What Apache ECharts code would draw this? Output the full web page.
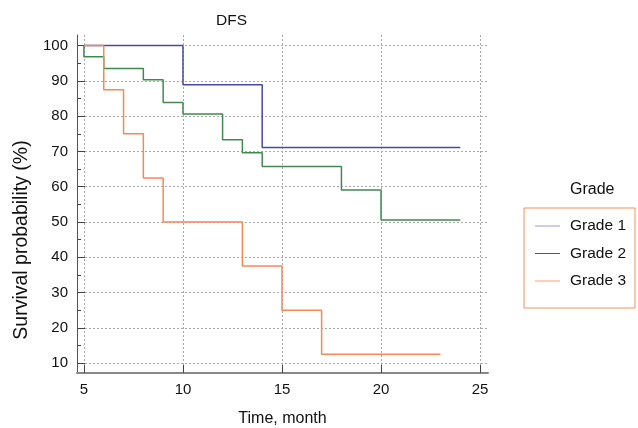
<!DOCTYPE html>
<html>
<head>
<meta charset="utf-8">
<script src="https://cdn.jsdelivr.net/npm/echarts@6/dist/echarts.min.js"></script>
<style>
html,body{margin:0;padding:0;background:#fff;}
#chart{width:638px;height:428px;}
</style>
</head>
<body>
<div id="chart"></div>
<script>
const titleText = 'DFS';
const legendTitle = 'Grade';
const seriesNames = ['Grade 1', 'Grade 2', 'Grade 3'];
const grade1Time = [5, 10, 14, 24];
const grade1Surv = [100, 88.9, 71.1, 71.1];
const grade2Time = [5, 5, 6, 8, 9, 10, 12, 13, 14, 18, 20, 24];
const grade2Surv = [100, 96.8, 93.5, 90.3, 83.9, 80.6, 73.3, 69.6, 65.7, 59.1, 50.6, 50.6];
const grade3Time = [5, 6, 7, 8, 9, 13, 15, 17, 23];
const grade3Surv = [100, 87.5, 75, 62.5, 50, 37.5, 25, 12.5, 12.5];
const xTicks = [5, 10, 15, 20, 25];
const yTicks = [10, 20, 30, 40, 50, 60, 70, 80, 90, 100];
const yMinorTicks = [15, 25, 35, 45, 55, 65, 75, 85, 95];

const colors = ['#4848a6', '#3f8a50', '#f58a50'];
const legendColors = ['#9b9bd0', '#2f6f3c', '#f7a070'];
const font = '"Liberation Sans", Arial, sans-serif';

function pairs(t, s) { return t.map((v, i) => [v, s[i]]); }

const chart = echarts.init(document.getElementById('chart'), null, {renderer: 'canvas'});
const yMin = 7.2, yMax = 103;
chart.setOption({
  animation: false,
  backgroundColor: '#ffffff',
  textStyle: {fontFamily: font},
  title: [
    {text: titleText, left: 211, top: 8,
     textStyle: {fontFamily: font, fontSize: 15.5, fontWeight: 'normal', color: '#111'}},
    {text: legendTitle, left: 565, top: 177,
     textStyle: {fontFamily: font, fontSize: 16, fontWeight: 'normal', color: '#111'}}
  ],
  legend: {
    orient: 'vertical',
    left: 524, top: 208,
    padding: [10, 9, 19, 11],
    itemGap: 11.5,
    itemWidth: 25, itemHeight: 16,
    icon: 'path://M0,7.5 L25,7.5 L25,8.5 L0,8.5 Z',
    borderColor: '#f5905a', borderWidth: 1,
    textStyle: {fontFamily: font, fontSize: 15.5, color: '#111', padding: [0, 0, 0, 5]},
    data: seriesNames.map((n, i) => ({name: n, itemStyle: {color: legendColors[i]}}))
  },
  grid: {left: 77, right: 150, top: 35, bottom: 55, containLabel: false, outerBoundsMode: 'none'},
  xAxis: {
    type: 'value', min: 4.65, max: 25.4,
    name: 'Time, month', nameLocation: 'middle', nameGap: 38,
    nameTextStyle: {fontFamily: font, fontSize: 16, color: '#111'},
    axisLine: {show: true, onZero: false, lineStyle: {color: '#888', width: 2}},
    axisTick: {show: true, inside: true, length: 8, customValues: xTicks, lineStyle: {color: '#444'}},
    axisLabel: {customValues: xTicks, fontFamily: font, fontSize: 15, color: '#111', margin: 9},
    splitLine: {show: true, lineStyle: {color: '#aaa', type: [2, 2], width: 1}}
  },
  yAxis: [{
    type: 'value', min: yMin, max: yMax,
    name: 'Survival probability (%)', nameLocation: 'middle', nameGap: 44, nameRotate: 90,
    nameTextStyle: {fontFamily: font, fontSize: 19.5, color: '#111', padding: [0, 72, 0, 0]},
    axisLine: {show: true, onZero: false, lineStyle: {color: '#555', width: 1}},
    axisTick: {show: true, inside: true, length: 8, customValues: yTicks, lineStyle: {color: '#444'}},
    axisLabel: {customValues: yTicks, fontFamily: font, fontSize: 15, color: '#111', margin: 9},
    splitLine: {show: true, lineStyle: {color: '#aaa', type: [2, 2], width: 1}}
  }, {
    type: 'value', min: yMin, max: yMax, position: 'left', offset: 0,
    axisLine: {show: false},
    axisTick: {show: true, inside: true, length: 4, customValues: yMinorTicks, lineStyle: {color: '#444'}},
    axisLabel: {show: false},
    splitLine: {show: false}
  }],
  series: [
    {name: seriesNames[0], type: 'line', step: 'end', symbol: 'none', yAxisIndex: 0,
     data: pairs(grade1Time, grade1Surv), color: colors[0], lineStyle: {width: 1.5, color: colors[0]}},
    {name: seriesNames[1], type: 'line', step: 'end', symbol: 'none', yAxisIndex: 0,
     data: pairs(grade2Time, grade2Surv), color: colors[1], lineStyle: {width: 1.5, color: colors[1]}},
    {name: seriesNames[2], type: 'line', step: 'end', symbol: 'none', yAxisIndex: 0,
     data: pairs(grade3Time, grade3Surv), color: colors[2], lineStyle: {width: 1.5, color: colors[2]}}
  ]
});
</script>
</body>
</html>
